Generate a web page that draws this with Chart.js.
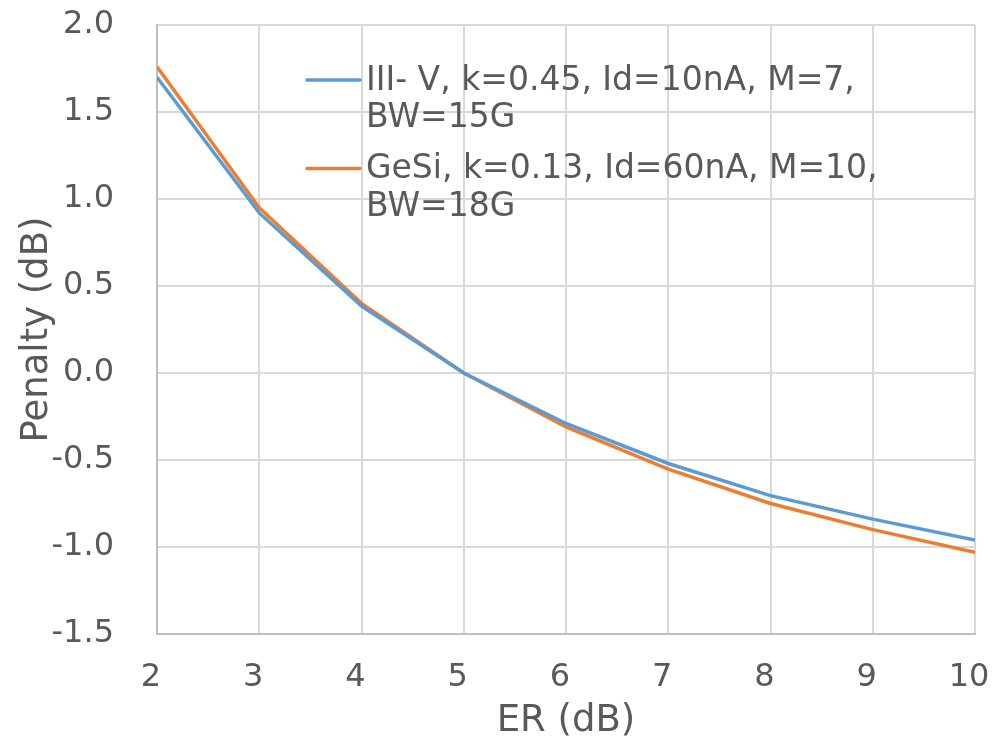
<!DOCTYPE html>
<html>
<head>
<meta charset="utf-8">
<script src="https://cdn.jsdelivr.net/npm/chart.js@4/dist/chart.umd.min.js"></script>
<style>
  html, body { margin: 0; padding: 0; background: #ffffff; }
  #wrap { width: 1007px; height: 747px; }
</style>
</head>
<body>
<div id="wrap"><canvas id="c" width="1007" height="747"></canvas></div>
<script>
// ---- data ----
const erValues = [2, 3, 4, 5, 6, 7, 8, 9, 10];
const penaltyIIIV = [1.70, 0.92, 0.385, 0.0, -0.29, -0.52, -0.705, -0.84, -0.96];
const penaltyGeSi = [1.76, 0.95, 0.40, 0.0, -0.31, -0.553, -0.75, -0.90, -1.03];
const seriesNames = ["III- V, k=0.45, Id=10nA, M=7, BW=15G", "GeSi, k=0.13, Id=60nA, M=10, BW=18G"];
const legendLines = [["III- V, k=0.45, Id=10nA, M=7,", "BW=15G"], ["GeSi, k=0.13, Id=60nA, M=10,", "BW=18G"]];
const yTicks = [-1.5, -1.0, -0.5, 0.0, 0.5, 1.0, 1.5, 2.0];
const xTicks = [2, 3, 4, 5, 6, 7, 8, 9, 10];
const xTitle = "ER (dB)";
const yTitle = "Penalty (dB)";

const FONT = "'DejaVu Sans', Verdana, sans-serif";
const TEXT = "#595959";
const colors = ["#5B9BD5", "#ED7D31"];

const legendPlugin = {
  id: "customLegend",
  afterDraw(chart) {
    const ctx = chart.ctx;
    ctx.save();
    ctx.font = "33px " + FONT;
    ctx.textBaseline = "middle";
    ctx.textAlign = "left";
    const x0 = 307, x1 = 360, tx = 366;
    const itemY = [80, 168.5];
    const lineGap = 37.5;
    chart.data.datasets.forEach((ds, i) => {
      const y = itemY[i];
      ctx.strokeStyle = ds.borderColor;
      ctx.lineWidth = 3.5;
      ctx.lineCap = "round";
      ctx.beginPath();
      ctx.moveTo(x0, y);
      ctx.lineTo(x1, y);
      ctx.stroke();
      ctx.fillStyle = TEXT;
      legendLines[i].forEach((t, j) => ctx.fillText(t, tx, y + j * lineGap + 1));
    });
    ctx.restore();
  }
};

const toPts = arr => erValues.map((x, i) => ({x: x, y: arr[i]}));
const zeroPad = s => { s.paddingTop = 0; s.paddingBottom = 0; s.paddingLeft = 0; s.paddingRight = 0; };

new Chart(document.getElementById("c"), {
  type: "line",
  data: {
    datasets: [
      { label: seriesNames[0], data: toPts(penaltyIIIV), borderColor: colors[0], backgroundColor: colors[0],
        borderWidth: 3.5, pointRadius: 0, tension: 0, fill: false },
      { label: seriesNames[1], data: toPts(penaltyGeSi), borderColor: colors[1], backgroundColor: colors[1],
        borderWidth: 3.5, pointRadius: 0, tension: 0, fill: false }
    ]
  },
  options: {
    responsive: false,
    animation: false,
    devicePixelRatio: 1,
    layout: { padding: { top: 25, right: 32, left: 0, bottom: 0 } },
    plugins: { legend: { display: false }, tooltip: { enabled: false } },
    scales: {
      x: {
        type: "linear",
        min: 2, max: 10,
        afterBuildTicks: s => { s.ticks = xTicks.map(v => ({value: v})); },
        afterFit: s => { s.height = 113; zeroPad(s); },
        grid: { color: "#D9D9D9", lineWidth: 2, drawTicks: false },
        border: { color: "#BFBFBF", width: 2 },
        ticks: { color: TEXT, font: { family: FONT, size: 32 }, padding: 24, maxRotation: 0,
                 labelOffset: -6, callback: v => String(v) },
        title: { display: true, text: xTitle, color: TEXT, font: { family: FONT, size: 37 },
                 padding: { top: 0, bottom: 3 } }
      },
      y: {
        type: "linear",
        min: -1.5, max: 2.0,
        afterBuildTicks: s => { s.ticks = yTicks.map(v => ({value: v})); },
        afterFit: s => { s.width = 157; zeroPad(s); },
        grid: { color: "#D9D9D9", lineWidth: 2, drawTicks: false },
        border: { color: "#BFBFBF", width: 2 },
        ticks: { color: TEXT, font: { family: FONT, size: 32 }, padding: 43,
                 callback: v => Number(v).toFixed(1) },
        title: { display: true, text: yTitle, color: TEXT, font: { family: FONT, size: 37 },
                 padding: { top: 15, bottom: 0 } }
      }
    }
  },
  plugins: [legendPlugin]
});
</script>
</body>
</html>
